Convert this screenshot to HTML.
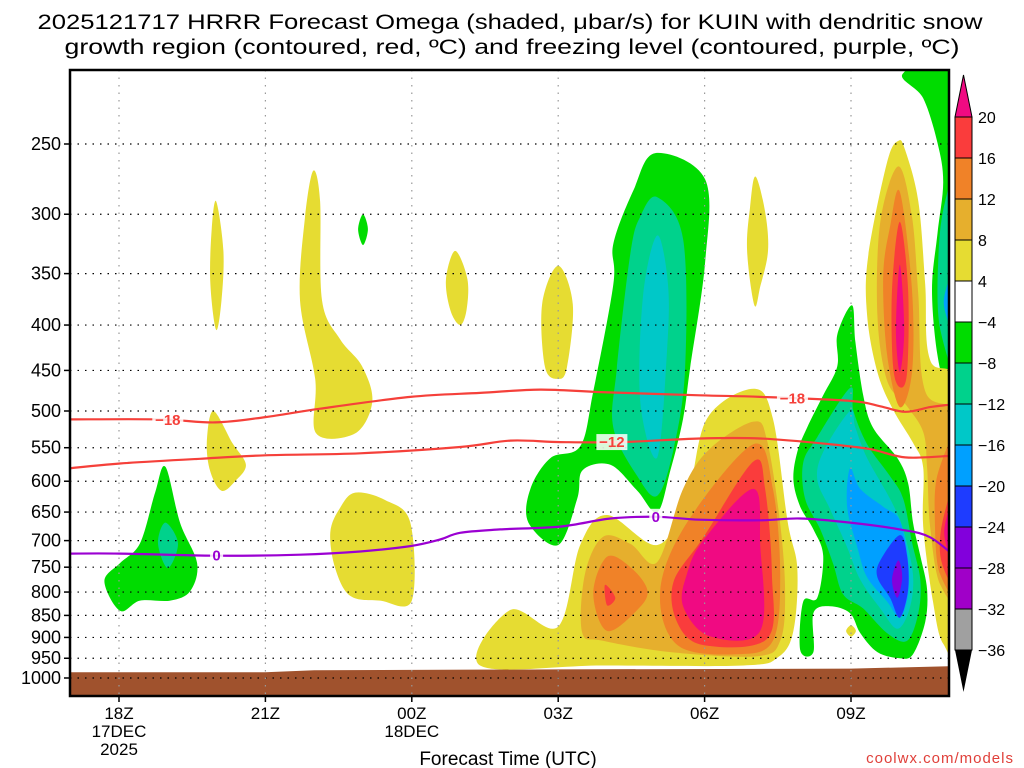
<!DOCTYPE html>
<html><head><meta charset="utf-8"><style>
html,body{margin:0;padding:0;background:#fff;}
svg{display:block;font-family:"Liberation Sans","DejaVu Sans",sans-serif;}
</style></head><body>
<svg id="chart" width="1024" height="768" viewBox="0 0 1024 768" xmlns="http://www.w3.org/2000/svg">
<text x="510" y="29" text-anchor="middle" font-size="21" textLength="945" lengthAdjust="spacingAndGlyphs">2025121717 HRRR Forecast Omega (shaded, μbar/s) for KUIN with dendritic snow</text>
<text x="512" y="54" text-anchor="middle" font-size="21" textLength="895" lengthAdjust="spacingAndGlyphs">growth region (contoured, red, ºC) and freezing level (contoured, purple, ºC)</text>
<defs><clipPath id="plotclip"><rect x="70" y="70" width="879" height="626"/></clipPath></defs>
<g id="fills" clip-path="url(#plotclip)"></g>
<g id="grid"></g>
<g id="lines" clip-path="url(#plotclip)"></g>
<rect x="70" y="70" width="879" height="626" fill="none" stroke="#000" stroke-width="2.5"/>
<g id="axes"></g>
<g id="cbar"></g>
<text x="508" y="765" text-anchor="middle" font-size="19">Forecast Time (UTC)</text>
<text x="1014" y="763" text-anchor="end" font-size="15" fill="#e0403a" letter-spacing="1">coolwx.com/models</text>
</svg>
<script>
// ---- data ----
const pressureTicks = [250,300,350,400,450,500,550,600,650,700,750,800,850,900,950,1000];
const timeTicks = [18,21,24,27,30,33];
const timeTickLabels = [["18Z","17DEC","2025"],["21Z"],["00Z","18DEC"],["03Z"],["06Z"],["09Z"]];
const cbarLevels = [20,16,12,8,4,-4,-8,-12,-16,-20,-24,-28,-32,-36];
const cbarColors = ["#fa3c3c","#f08228","#e6af2d","#e6dc32","#ffffff","#00dc00","#00d28c","#00c8c8","#00a0ff","#1e3cff","#8200dc","#a000c8","#a0a0a0"];
const surfaceHours = [17,21,22,27,33,35];
const surfacePressure = [985,985,980,978,976,970];
const line18Hours = [17,18.84,19.97,21.0,22.12,23.97,25.4,26.63,27.86,29.9,31.14,32.98,33.6,34.11,34.62,35];
const line18Press = [511,511,515,508,497,482,477,473,476,480,482,487,494,501,495,492];
const line12Hours = [17,18.02,19.66,21.0,22.94,24.99,26.02,27.04,28.27,29.9,31.14,32.57,33.39,34.11,35];
const line12Press = [580,573,566,561,558,549,540,542,542,537,537,545,552,564,562];
const line0Hours = [17,18.02,19.97,21.71,22.94,23.97,24.58,24.99,25.81,27.04,28.07,29.01,29.9,31.14,31.96,32.98,34.0,34.62,35.2];
const line0Press = [724,724,728,726,720,710,698,686,680,675,661,658,663,664,661,668,680,694,735];
// omega regions: [hour, hPa]
const g18 = [[18.95,578],[19.25,668],[19.6,742],[19.46,798],[19.05,818],[18.43,818],[18.02,840],[17.7,778],[18.02,742],[18.43,705],[18.74,618]];
const g18teal = [[18.95,668],[19.21,705],[19.0,752],[18.8,705]];
const y20a = [[19.99,290],[20.14,330],[20.1,375],[19.99,405],[19.87,358],[19.9,312]];
const y20b = [[19.93,500],[20.32,543],[20.6,575],[20.38,600],[20.1,615],[19.87,585],[19.8,543]];
const y22 = [[21.98,268],[22.12,290],[22.16,375],[22.53,415],[22.98,445],[23.19,488],[22.84,530],[22.04,530],[22.02,460],[21.71,375],[21.81,303]];
const g23 = [[23.0,300],[23.1,312],[23.0,325],[22.9,312]];
const y01 = [[24.89,330],[25.14,355],[25.12,385],[24.99,400],[24.79,385],[24.7,355]];
const y23low = [[22.84,618],[23.45,630],[23.97,668],[24.0,818],[23.35,818],[22.74,808],[22.43,752],[22.33,685],[22.53,643]];
const y03 = [[27,343],[27.3,379],[27.18,446],[27,460],[26.73,446],[26.67,379]];
const y08 = [[31.04,272],[31.24,298],[31.3,330],[31.14,362],[31.02,380],[30.87,330],[30.93,295]];
const gBig = [[28.99,256],[30.01,274],[30.01,340],[29.7,448],[29.56,510],[29.3,583],[29.03,650],[28.62,615],[28.07,575],[27.5,583],[27.39,628],[27.0,708],[26.39,668],[26.43,612],[26.84,565],[27.45,548],[27.72,475],[28.13,360],[28.13,324],[28.54,282]];
const gBigTeal = [[29.03,287],[29.56,320],[29.6,448],[29.36,553],[29.03,623],[28.62,592],[28.13,522],[28.2,448],[28.48,332],[28.68,302]];
const gBigCyan = [[29.03,317],[29.25,360],[29.23,428],[29.03,564],[28.68,487],[28.74,370]];
const wYellow = [[25.4,968],[26.02,838],[27.0,875],[27.45,708],[28.0,655],[29.03,708],[29.64,627],[30.05,510],[31.0,472],[31.4,510],[31.7,666],[31.9,752],[31.82,885],[31.5,948],[30.8,968],[27.9,968]];
const wGold = [[27.49,888],[27.55,763],[27.92,693],[28.48,706],[29.03,740],[29.56,612],[30.1,552],[31.0,514],[31.28,540],[31.55,670],[31.65,802],[31.55,908],[31.08,945],[29.3,935],[27.92,908]];
const wOrangeL = [[27.72,803],[28.0,730],[28.48,750],[28.83,797],[28.62,838],[28.0,885]];
const wOrangeR = [[29.09,797],[29.64,668],[31.0,545],[31.4,612],[31.55,763],[31.4,908],[30.67,940],[29.44,918]];
const wRedR = [[29.36,780],[29.97,695],[31.0,570],[31.24,612],[31.38,763],[31.28,903],[29.97,918],[29.44,866]];
const wRedL = [[27.96,785],[28.17,812],[28.0,828]];
const wMag = [[29.64,763],[29.97,700],[31.0,612],[31.14,708],[31.14,885],[30.1,897],[29.56,830]];
const gTopR = [[34.07,208],[35.3,200],[35.3,478],[35,478],[34.77,432],[34.66,365],[34.77,316],[34.89,276],[34.77,249],[34.48,222]];
const gTopRTeal = [[35.3,260],[34.93,290],[34.79,335],[34.83,405],[35.3,455]];
const gTopRBlue = [[35.3,336],[34.9,377],[35.3,420]];
const yR = [[33.97,248],[34.11,254],[34.38,290],[34.52,360],[34.62,438],[35.3,485],[35.3,920],[34.89,915],[34.68,820],[34.48,675],[34.48,579],[34.27,543],[33.86,498],[33.54,452],[33.33,390],[33.35,335],[33.74,262]];
const goldR = [[33.97,265],[34.25,302],[34.38,370],[34.52,475],[35.3,520],[35.3,805],[34.83,785],[34.62,675],[34.56,579],[34.48,528],[34.15,494],[33.74,462],[33.54,390],[33.6,306]];
const orR = [[34.0,283],[34.25,365],[34.25,452],[34.0,495],[33.74,432],[33.66,352],[33.8,310]];
const orEdge = [[35.3,528],[34.79,585],[34.72,668],[34.83,765],[35.3,800]];
const redR = [[34.0,306],[34.17,365],[34.15,452],[34.0,470],[33.86,444],[33.84,365]];
const redEdge = [[35.3,578],[34.87,668],[34.87,745],[35.3,795]];
const magR = [[34.0,342],[34.09,405],[34.0,452],[33.92,405]];
const magEdge = [[35.3,600],[34.91,685],[35.3,770]];
const c09 = [[33.02,380],[32.72,410],[32.72,445],[32.43,480],[32.1,522],[31.9,556],[31.82,598],[31.96,641],[32.23,680],[32.43,728],[32.31,812],[32.02,820],[31.96,930],[32.23,935],[32.23,845],[32.57,830],[32.98,845],[33.19,890],[33.54,935],[34.0,950],[34.27,940],[34.52,865],[34.56,795],[34.42,728],[34.27,668],[34.17,603],[33.95,565],[33.45,522],[33.25,480],[33.09,418]];
const c09teal = [[32.98,471],[32.31,535],[32.02,572],[32.06,628],[32.37,680],[32.63,742],[32.84,805],[33.25,835],[33.74,890],[34.15,908],[34.38,845],[34.42,775],[34.25,703],[34.07,628],[33.8,592],[33.33,545],[33.05,500]];
const c09cyan = [[32.98,500],[32.43,556],[32.31,598],[32.57,645],[32.92,712],[33.19,775],[33.6,835],[33.95,880],[34.2,835],[34.27,765],[34.07,680],[33.8,628],[33.33,565],[33.09,522]];
const c09sky = [[32.98,580],[32.92,641],[33.13,712],[33.33,770],[33.74,820],[34.0,855],[34.17,805],[34.17,737],[34.0,664],[33.66,641],[33.19,612]];
const c09blue = [[34.0,690],[33.6,737],[33.54,770],[33.8,812],[34.0,855],[34.17,795],[34.15,728]];
const c09purple = [[33.97,737],[33.84,775],[33.95,812],[34.05,770]];
const yDot = [[33.0,872],[33.1,885],[33.0,898],[32.9,885]];

const regions = [
 ["green-blob-18z",g18,-4],["teal-core-18z",g18teal,-8],
 ["yellow-upper-20z",y20a,4],["yellow-mid-20z",y20b,4],["yellow-22z",y22,4],["green-speck-23z",g23,-4],
 ["yellow-01z",y01,4],["yellow-low-00z",y23low,4],["yellow-03z",y03,4],["yellow-08z",y08,4],
 ["green-big-05z",gBig,-4],["teal-big-05z",gBigTeal,-8],["cyan-big-05z",gBigCyan,-12],
 ["warm-yellow-06z",wYellow,4],["warm-gold-06z",wGold,8],["warm-orange-04z",wOrangeL,12],["warm-orange-06z",wOrangeR,12],
 ["warm-red-06z",wRedR,16],["warm-red-04z",wRedL,16],["warm-magenta-06z",wMag,20],
 ["green-top-right",gTopR,-4],["teal-top-right",gTopRTeal,-8],["blue-top-right",gTopRBlue,-16],
 ["yellow-10z",yR,4],["gold-10z",goldR,8],["orange-10z",orR,12],["orange-edge",orEdge,12],
 ["red-10z",redR,16],["red-edge",redEdge,16],["magenta-10z",magR,20],["magenta-edge",magEdge,20],
 ["cold-green-09z",c09,-4],["cold-teal-09z",c09teal,-8],["cold-cyan-09z",c09cyan,-12],["cold-sky-09z",c09sky,-16],
 ["cold-blue-09z",c09blue,-20],["cold-purple-09z",c09purple,-24],["yellow-dot-09z",yDot,4]
];

// ---- axes ----
const NS="http://www.w3.org/2000/svg";
function X(h){return 119+(h-18)*48.8;}
function Y(p){return 144+Math.log(p/250)/Math.log(4)*534;}
function levelColor(v){
  if(v>=20) return "#f00a82";
  if(v>=16) return "#fa3c3c"; if(v>=12) return "#f08228"; if(v>=8) return "#e6af2d"; if(v>=4) return "#e6dc32";
  if(v>-8) return "#00dc00"; if(v>-12) return "#00d28c"; if(v>-16) return "#00c8c8"; if(v>-20) return "#00a0ff";
  if(v>-24) return "#1e3cff"; if(v>-28) return "#8200dc"; if(v>-32) return "#a000c8"; return "#a0a0a0";
}
function mk(tag,attrs,parent){const e=document.createElementNS(NS,tag);for(const k in attrs)e.setAttribute(k,attrs[k]);parent.appendChild(e);return e;}
function smoothPath(pts,closed){
  const n=pts.length;let d="M"+pts[0][0].toFixed(1)+","+pts[0][1].toFixed(1);
  const get=i=>closed?pts[(i+n)%n]:pts[Math.max(0,Math.min(n-1,i))];
  const segs=closed?n:n-1;
  for(let i=0;i<segs;i++){
    const p0=get(i-1),p1=get(i),p2=get(i+1),p3=get(i+2);
    const c1=[p1[0]+(p2[0]-p0[0])/6,p1[1]+(p2[1]-p0[1])/6];
    const c2=[p2[0]-(p3[0]-p1[0])/6,p2[1]-(p3[1]-p1[1])/6];
    d+="C"+c1[0].toFixed(1)+","+c1[1].toFixed(1)+" "+c2[0].toFixed(1)+","+c2[1].toFixed(1)+" "+p2[0].toFixed(1)+","+p2[1].toFixed(1);
  }
  return d+(closed?"Z":"");
}
const fills=document.getElementById("fills");
regions.forEach(r=>{
  const pts=r[1].map(q=>[X(q[0]),Y(q[1])]);
  const el=mk("path",{d:smoothPath(pts,true),fill:levelColor(r[2])},fills);
  
  
});
// ground
{
  let d="M"+X(surfaceHours[0])+","+Y(1100);
  surfaceHours.forEach((h,i)=>{d+="L"+X(h).toFixed(1)+","+Y(surfacePressure[i]).toFixed(1);});
  d+="L"+X(surfaceHours[surfaceHours.length-1])+","+Y(1100)+"Z";
  const g=mk("path",{d:d,fill:"#a0522d"},fills);
  
  
}
// grid
const grid=document.getElementById("grid");
pressureTicks.forEach(p=>{
  const l=mk("line",{x1:70,x2:949,y1:Y(p),y2:Y(p),stroke:"#000","stroke-width":1.2,"stroke-dasharray":"1.5 6"},grid);
  
  
});
timeTicks.forEach(h=>{
  const l=mk("line",{x1:X(h),x2:X(h),y1:70,y2:696,stroke:"#999","stroke-width":1.2,"stroke-dasharray":"1.5 6"},grid);
  
  
});
// contour lines
const lines=document.getElementById("lines");
function drawLine(name,hours,press,color,labels,labelText){
  const pts=hours.map((h,i)=>[X(h),Y(press[i])]);
  const p=mk("path",{d:smoothPath(pts,false),fill:"none",stroke:color,"stroke-width":2.2},lines);
  
  
  labels.forEach(h=>{
    let i=0;while(i<hours.length-2&&hours[i+1]<h)i++;
    const t=(h-hours[i])/(hours[i+1]-hours[i]);
    const pp=press[i]+(press[i+1]-press[i])*t;
    const w=labelText.length*9+4;
    mk("rect",{x:X(h)-w/2,y:Y(pp)-8,width:w,height:16,fill:"#fff",opacity:0.85},lines);
    const tx=mk("text",{x:X(h),y:Y(pp)+5,"text-anchor":"middle","font-size":15,"font-weight":"bold",fill:color},lines);
    tx.textContent=labelText;
    
    
  });
}
drawLine("contour-minus18",line18Hours,line18Press,"#f5403a",[19.0,31.8],"−18");
drawLine("contour-minus12",line12Hours,line12Press,"#f5403a",[28.1],"−12");
drawLine("freezing-level-0",line0Hours,line0Press,"#9b00d2",[20.0,29.0],"0");
// axes labels
const axes=document.getElementById("axes");
pressureTicks.forEach(p=>{
  mk("line",{x1:64,x2:70,y1:Y(p),y2:Y(p),stroke:"#000","stroke-width":1.5},axes);
  const t=mk("text",{x:61,y:Y(p)+6,"text-anchor":"end","font-size":18},axes);
  t.textContent=String(p);
  
  
});
timeTicks.forEach((h,i)=>{
  mk("line",{x1:X(h),x2:X(h),y1:696,y2:702,stroke:"#000","stroke-width":1.5},axes);
  timeTickLabels[i].forEach((s,j)=>{
    const t=mk("text",{x:X(h),y:719+j*18,"text-anchor":"middle","font-size":17},axes);
    t.textContent=s;
    
    
  });
});
// colorbar
const cb=document.getElementById("cbar");
const cbTop=117,cbStep=41,cbX=955,cbW=17;
mk("path",{d:`M${cbX},${cbTop}L${cbX+cbW/2},${cbTop-42}L${cbX+cbW},${cbTop}Z`,fill:"#f00a82",stroke:"#000","stroke-width":1},cb);
cbarColors.forEach((c,i)=>{
  const r=mk("rect",{x:cbX,y:cbTop+i*cbStep,width:cbW,height:cbStep,fill:c,stroke:"#000","stroke-width":1},cb);
  
  
});
const cbBot=cbTop+cbarColors.length*cbStep;
mk("path",{d:`M${cbX},${cbBot}L${cbX+cbW/2},${cbBot+42}L${cbX+cbW},${cbBot}Z`,fill:"#000"},cb);
cbarLevels.forEach((v,i)=>{
  const t=mk("text",{x:978,y:cbTop+i*cbStep+6,"font-size":16},cb);
  t.textContent=(v<0?"−":"")+Math.abs(v);
  
  
});
</script>
</body></html>
